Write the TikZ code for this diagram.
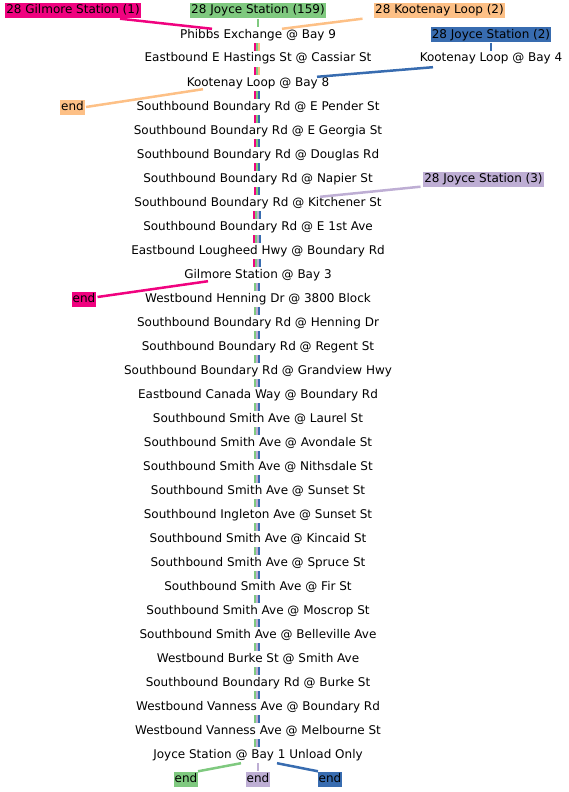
\documentclass[tikz,border=0pt]{standalone}
\usepackage{fontspec}
\setmainfont{DejaVu Sans}
\definecolor{cpink}{HTML}{F0027F}
\definecolor{cgreen}{HTML}{7FC97F}
\definecolor{corange}{HTML}{FDC086}
\definecolor{cblue}{HTML}{386CB0}
\definecolor{cpurple}{HTML}{BEAED4}
\begin{document}
\begin{tikzpicture}[x=1pt,y=-1pt,
  stop/.style={inner xsep=1pt,inner ysep=2pt,text height=9pt,text depth=3pt,font=\fontsize{12}{14}\selectfont},
  lbl/.style={fill=#1,inner xsep=1pt,inner ysep=1.5pt,text height=9pt,text depth=3pt,font=\fontsize{12}{14}\selectfont},
  conn/.style={draw=#1,line width=2.5pt},
  stripe/.style={draw=#1,line width=2pt}]
\useasboundingbox (0,0) rectangle (568,792);
\foreach \t [count=\i from 0] in {Phibbs Exchange @ Bay 9,Eastbound E Hastings St @ Cassiar St,Kootenay Loop @ Bay 8,Southbound Boundary Rd @ E Pender St,Southbound Boundary Rd @ E Georgia St,Southbound Boundary Rd @ Douglas Rd,Southbound Boundary Rd @ Napier St,Southbound Boundary Rd @ Kitchener St,Southbound Boundary Rd @ E 1st Ave,Eastbound Lougheed Hwy @ Boundary Rd,Gilmore Station @ Bay 3,Westbound Henning Dr @ 3800 Block,Southbound Boundary Rd @ Henning Dr,Southbound Boundary Rd @ Regent St,Southbound Boundary Rd @ Grandview Hwy,Eastbound Canada Way @ Boundary Rd,Southbound Smith Ave @ Laurel St,Southbound Smith Ave @ Avondale St,Southbound Smith Ave @ Nithsdale St,Southbound Smith Ave @ Sunset St,Southbound Ingleton Ave @ Sunset St,Southbound Smith Ave @ Kincaid St,Southbound Smith Ave @ Spruce St,Southbound Smith Ave @ Fir St,Southbound Smith Ave @ Moscrop St,Southbound Smith Ave @ Belleville Ave,Westbound Burke St @ Smith Ave,Southbound Boundary Rd @ Burke St,Westbound Vanness Ave @ Boundary Rd,Westbound Vanness Ave @ Melbourne St,Joyce Station @ Bay 1 Unload Only}
  \node[stop] (s\i) at (258,{35+24*\i}) {\t};
% labels
\node[lbl=cpink] (g1) at (73,11) {28 Gilmore Station (1)};
\node[lbl=cgreen] (j159) at (258,11) {28 Joyce Station (159)};
\node[lbl=corange] (k2) at (439.5,11) {28 Kootenay Loop (2)};
\node[lbl=cblue] (j2) at (491,35) {28 Joyce Station (2)};
\node[stop] (kb4) at (491,59) {Kootenay Loop @ Bay 4};
\node[lbl=corange] (eo) at (72.5,107) {end};
\node[lbl=cpurple] (j3) at (483.5,179) {28 Joyce Station (3)};
\node[lbl=cpink] (ep) at (84,299) {end};
\node[lbl=cgreen] (eg) at (186,779) {end};
\node[lbl=cpurple] (eu) at (258,779) {end};
\node[lbl=cblue] (eb) at (330,779) {end};
% stripes
\foreach \i in {0,1} {
  \pgfmathtruncatemacro\j{\i+1}
  \draw[stripe=cpink] ([xshift=-3pt]s\i.south) -- ([xshift=-3pt]s\j.north);
  \draw[stripe=cgreen] ([xshift=-1pt]s\i.south) -- ([xshift=-1pt]s\j.north);
  \draw[stripe=corange] ([xshift=1pt]s\i.south) -- ([xshift=1pt]s\j.north);
}
\foreach \i in {2,...,6} {
  \pgfmathtruncatemacro\j{\i+1}
  \draw[stripe=cpink] ([xshift=-3pt]s\i.south) -- ([xshift=-3pt]s\j.north);
  \draw[stripe=cgreen] ([xshift=-1pt]s\i.south) -- ([xshift=-1pt]s\j.north);
  \draw[stripe=cblue] ([xshift=1pt]s\i.south) -- ([xshift=1pt]s\j.north);
}
\foreach \i in {7,8,9} {
  \pgfmathtruncatemacro\j{\i+1}
  \draw[stripe=cpink] ([xshift=-4pt]s\i.south) -- ([xshift=-4pt]s\j.north);
  \draw[stripe=cgreen] ([xshift=-2pt]s\i.south) -- ([xshift=-2pt]s\j.north);
  \draw[stripe=cpurple] ([xshift=0pt]s\i.south) -- ([xshift=0pt]s\j.north);
  \draw[stripe=cblue] ([xshift=2pt]s\i.south) -- ([xshift=2pt]s\j.north);
}
\foreach \i in {10,...,29} {
  \pgfmathtruncatemacro\j{\i+1}
  \draw[stripe=cgreen] ([xshift=-3pt]s\i.south) -- ([xshift=-3pt]s\j.north);
  \draw[stripe=cpurple] ([xshift=-1pt]s\i.south) -- ([xshift=-1pt]s\j.north);
  \draw[stripe=cblue] ([xshift=1pt]s\i.south) -- ([xshift=1pt]s\j.north);
}
% connectors
\draw[conn=cpink] ([xshift=47pt]g1.south) -- ([xshift=-46pt,yshift=-2pt]s0.north);
\draw[conn=cgreen] (j159.south) -- (s0.north);
\draw[conn=corange] ([xshift=-77pt]k2.south) -- ([xshift=24pt,yshift=-2pt]s0.north);
\draw[conn=cblue] (j2.south) -- (kb4.north);
\draw[conn=cblue] ([xshift=-58pt]kb4.south) -- ([xshift=59pt,yshift=-2pt]s2.north);
\draw[conn=corange] ([xshift=-55pt,yshift=2pt]s2.south) -- ([xshift=1pt]eo.east);
\draw[conn=cpurple] ([xshift=-63pt]j3.south) -- ([xshift=62pt,yshift=-2pt]s7.north);
\draw[conn=cpink] ([xshift=-50pt,yshift=2pt]s10.south) -- ([xshift=1pt,yshift=2pt]ep.east);
\draw[conn=cgreen] ([xshift=-17pt]s30.south) -- ([xshift=12pt]eg.north);
\draw[conn=cpurple] (s30.south) -- (eu.north);
\draw[conn=cblue] ([xshift=19pt]s30.south) -- ([xshift=-12pt]eb.north);
\end{tikzpicture}
\end{document}
